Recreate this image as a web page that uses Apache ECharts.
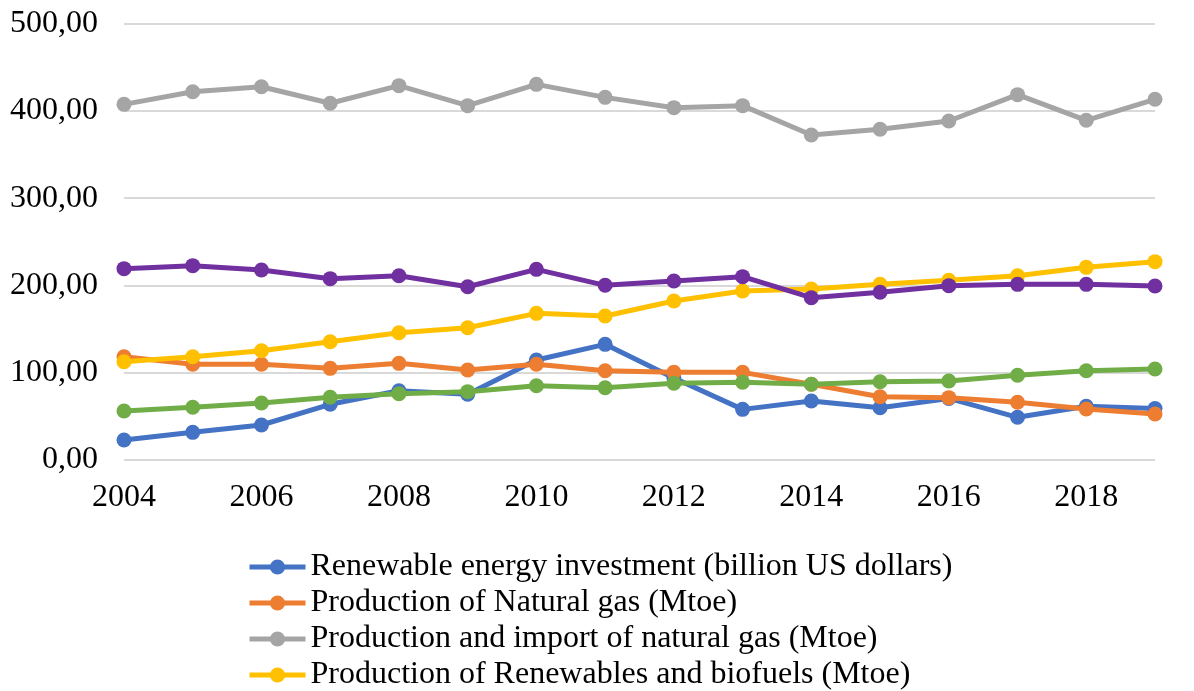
<!DOCTYPE html>
<html>
<head>
<meta charset="utf-8">
<script src="https://cdn.jsdelivr.net/npm/echarts@6/dist/echarts.min.js"></script>
<style>html,body{margin:0;padding:0;background:#fff}#c{width:1194px;height:691px}</style>
</head>
<body>
<div id="c"></div>
<script>
const years = [2004,2005,2006,2007,2008,2009,2010,2011,2012,2013,2014,2015,2016,2017,2018,2019];
const renewInvest = [22.9,31.7,40.1,63.8,79.4,75.3,114.5,132.5,94,58.0,67.6,59.9,70.5,48.9,61.5,59.0];
const natGasProd = [118.3,109.6,109.6,105.0,110.7,103.1,109.6,102.3,100.4,100.4,86.7,72.5,71.4,66.1,58.4,52.7];
const natGasProdImport = [407.4,421.9,427.6,408.6,428.8,405.9,430.3,415.4,403.6,405.9,372.3,378.8,388.3,418.5,389.1,413.2];
const renewProd = [112.6,118.3,125.2,135.5,145.8,151.5,168.0,165.0,182.1,193.6,195.9,201.2,205.8,211.1,220.7,227.2];
const purpleSeries = [219.2,222.6,217.6,207.7,211.1,198.5,218.4,200.1,205.0,210.0,185.9,192.1,199.7,201.2,201.2,199.3];
const greenSeries = [56.1,60.4,65.3,71.8,76.0,78.3,85.1,82.8,87.9,89.0,86.7,89.7,90.5,97.0,102.3,104.2];
const yTicks = [0,100,200,300,400,500];

const names = [
  'Renewable energy investment (billion US dollars)',
  'Production of Natural gas (Mtoe)',
  'Production and import of natural gas (Mtoe)',
  'Production of Renewables and biofuels (Mtoe)',
  'Series 5',
  'Series 6'
];
const colors = ['#4472C4','#ED7D31','#A5A5A5','#FFC000','#7030A0','#70AD47'];
const datasets = [renewInvest,natGasProd,natGasProdImport,renewProd,purpleSeries,greenSeries];

const font = '"Liberation Serif","Times New Roman",serif';
const chart = echarts.init(document.getElementById('c'));
chart.setOption({
  animation:false,
  backgroundColor:'#fff',
  grid:{left:124,right:39,top:23.5,bottom:231,containLabel:false},
  xAxis:{
    type:'value',min:2004,max:2019,interval:2,
    axisLine:{show:false},axisTick:{show:false},splitLine:{show:false},
    axisLabel:{fontFamily:font,fontSize:32,color:'#000',margin:22,showMaxLabel:false,formatter:v=>String(v)}
  },
  yAxis:{
    type:'value',min:yTicks[0],max:yTicks[yTicks.length-1],interval:100,
    axisLine:{show:false},axisTick:{show:false},
    splitLine:{lineStyle:{color:'#d9d9d9',width:2}},
    axisLabel:{fontFamily:font,fontSize:32,color:'#000',margin:26,formatter:v=>v.toFixed(2).replace('.',',')}
  },
  legend:{
    data:names.slice(0,4),
    orient:'vertical',left:242,top:546,height:300,itemGap:4,
    itemWidth:56,itemHeight:19,
    lineStyle:{width:5},
    textStyle:{fontFamily:font,fontSize:32,color:'#000'}
  },
  series:datasets.map((d,i)=>({
    name:names[i],type:'line',
    data:years.map((y,j)=>[y,d[j]]),
    symbol:'circle',symbolSize:15,
    lineStyle:{color:colors[i],width:5},
    itemStyle:{color:colors[i]},
    z:2+i
  }))
});
</script>
</body>
</html>
